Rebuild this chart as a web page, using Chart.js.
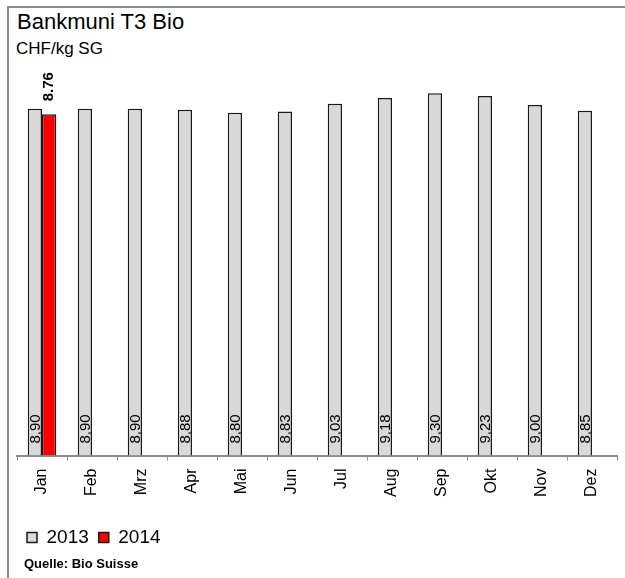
<!DOCTYPE html>
<html>
<head>
<meta charset="utf-8">
<script src="https://cdn.jsdelivr.net/npm/chart.js@4/dist/chart.umd.min.js"></script>
<style>
  html, body { margin: 0; padding: 0; background: #fff; }
  body { width: 625px; height: 578px; position: relative; overflow: hidden; font-family: "Liberation Sans", Arial, sans-serif; }
  #frame { position: absolute; left: 7px; top: 6px; width: 620px; height: 580px; border-top: 2px solid #8c8c8c; border-left: 2px solid #8c8c8c; }
  #title { position: absolute; left: 17px; top: 9px; font-size: 22px; color: #000; white-space: nowrap; }
  #subtitle { position: absolute; left: 16px; top: 39px; font-size: 17px; color: #000; white-space: nowrap; }
  #source { position: absolute; left: 24px; top: 556px; font-size: 13px; font-weight: bold; color: #000; white-space: nowrap; }
  #c { position: absolute; left: 0; top: 0; }
</style>
</head>
<body>
<div id="frame"></div>
<div id="title">Bankmuni T3 Bio</div>
<div id="subtitle">CHF/kg SG</div>
<canvas id="c" width="625" height="578"></canvas>
<div id="source">Quelle: Bio Suisse</div>
<script>
const categories = ['Jan', 'Feb', 'Mrz', 'Apr', 'Mai', 'Jun', 'Jul', 'Aug', 'Sep', 'Okt', 'Nov', 'Dez'];
const values2013 = [8.90, 8.90, 8.90, 8.88, 8.80, 8.83, 9.03, 9.18, 9.30, 9.23, 9.00, 8.85];
const values2014 = [8.76, null, null, null, null, null, null, null, null, null, null, null];
const seriesNames = ['2013', '2014'];

const FONT = '"Liberation Sans", Arial, sans-serif';

const valueLabels = {
  id: 'valueLabels',
  afterDatasetsDraw(chart) {
    const ctx = chart.ctx;
    const base = chart.scales.y.getPixelForValue(0);
    ctx.save();
    ctx.fillStyle = '#000';
    ctx.textBaseline = 'middle';
    ctx.textAlign = 'left';
    chart.getDatasetMeta(0).data.forEach((bar, i) => {
      const v = values2013[i];
      if (v == null) return;
      ctx.save();
      ctx.translate(bar.x + 1, base - 12);
      ctx.rotate(-Math.PI / 2);
      ctx.font = '15px ' + FONT;
      ctx.fillText(v.toFixed(2).replace('.', ','), 0, 0);
      ctx.restore();
    });
    chart.getDatasetMeta(1).data.forEach((bar, i) => {
      const v = values2014[i];
      if (v == null) return;
      ctx.save();
      ctx.translate(bar.x, bar.y - 13);
      ctx.rotate(-Math.PI / 2);
      ctx.font = 'bold 15px ' + FONT;
      ctx.fillText(v.toFixed(2), 0, 0);
      ctx.restore();
    });
    ctx.restore();
  }
};

new Chart(document.getElementById('c'), {
  type: 'bar',
  data: {
    labels: categories,
    datasets: [
      { label: seriesNames[0], data: values2013, backgroundColor: '#d9d9d9', borderColor: '#1a1a1a', borderWidth: 1.5, categoryPercentage: 0.57, barPercentage: 1 },
      { label: seriesNames[1], data: values2014, backgroundColor: '#ff0000', borderColor: '#1a1a1a', borderWidth: 1.5, categoryPercentage: 0.57, barPercentage: 1 }
    ]
  },
  options: {
    responsive: false,
    animation: false,
    devicePixelRatio: 1,
    layout: { padding: { left: 17, right: 8, top: 66, bottom: 21 } },
    plugins: {
      title: { display: false },
      tooltip: { enabled: false },
      legend: {
        display: true,
        position: 'bottom',
        align: 'start',
        labels: {
          boxWidth: 10,
          boxHeight: 10,
          padding: 10,
          color: '#000',
          font: { family: FONT, size: 19 }
        }
      }
    },
    scales: {
      x: {
        afterFit(scale) { scale.height += 13; },
        grid: { display: true, offset: true, drawOnChartArea: false, drawTicks: true, tickLength: 5, color: '#8c8c8c', lineWidth: 1 },
        border: { display: true, color: '#8c8c8c', width: 2 },
        ticks: { autoSkip: false, minRotation: 90, maxRotation: 90, padding: 8, color: '#000', font: { family: FONT, size: 16 } }
      },
      y: {
        display: false,
        min: 0,
        max: 10
      }
    }
  },
  plugins: [valueLabels]
});
</script>
</body>
</html>
